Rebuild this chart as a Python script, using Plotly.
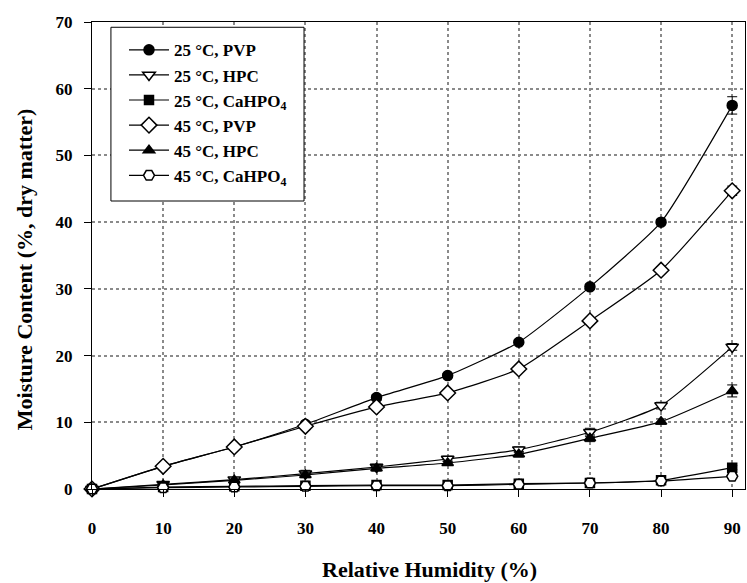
import plotly.graph_objects as go

rh = [0, 10, 20, 30, 40, 50, 60, 70, 80, 90]

pvp_25 = [0, 3.4, 6.3, 9.7, 13.7, 17.0, 22.0, 30.3, 40.0, 57.5]
hpc_25 = [0, 0.7, 1.4, 2.3, 3.3, 4.5, 5.9, 8.5, 12.5, 21.3]
ca_25 = [0, 0.3, 0.4, 0.5, 0.6, 0.6, 0.8, 0.9, 1.3, 3.2]
pvp_45 = [0, 3.4, 6.3, 9.4, 12.3, 14.4, 18.0, 25.2, 32.8, 44.7]
hpc_45 = [0, 0.6, 1.3, 2.1, 3.1, 3.9, 5.2, 7.6, 10.1, 14.7]
ca_45 = [0, 0.2, 0.3, 0.4, 0.5, 0.5, 0.7, 0.9, 1.2, 1.9]

err_pvp_25 = [0, 0.2, 0.3, 0.3, 0.4, 0.3, 0.3, 0.4, 0.4, 1.3]
err_hpc_25 = [0, 0.2, 0.2, 0.5, 0.4, 0.4, 0.4, 0.6, 0.5, 0.5]
err_ca_25 = [0, 0.1, 0.1, 0.1, 0.1, 0.1, 0.1, 0.1, 0.2, 0.3]
err_pvp_45 = [0, 0.2, 0.3, 0.5, 0.4, 0.3, 0.3, 0.4, 0.5, 0.7]
err_hpc_45 = [0, 0.2, 0.2, 0.4, 0.4, 0.3, 0.4, 0.5, 0.4, 0.9]
err_ca_45 = [0, 0.1, 0.1, 0.1, 0.1, 0.1, 0.1, 0.1, 0.2, 0.3]

names = ["25 °C, PVP", "25 °C, HPC", "25 °C, CaHPO<sub>4</sub>",
         "45 °C, PVP", "45 °C, HPC", "45 °C, CaHPO<sub>4</sub>"]

x_ticks = [0, 10, 20, 30, 40, 50, 60, 70, 80, 90]
y_ticks = [0, 10, 20, 30, 40, 50, 60, 70]
x_title = "Relative Humidity (%)"
y_title = "Moisture Content (%, dry matter)"

series = [pvp_25, hpc_25, ca_25, pvp_45, hpc_45, ca_45]
errors = [err_pvp_25, err_hpc_25, err_ca_25, err_pvp_45, err_hpc_45, err_ca_45]
symbols = ["circle", "triangle-down", "square", "diamond", "triangle-up", "hexagon2"]
fills = ["black", "white", "black", "white", "black", "white"]
sizes = [10, 11, 9, 12, 10, 11]

font_family = "Liberation Serif"

fig = go.Figure()
for name, ys, es, sym, fc, sz in zip(names, series, errors, symbols, fills, sizes):
    fig.add_trace(go.Scatter(
        x=rh, y=ys, name=name, mode="lines+markers",
        line=dict(color="black", width=1.2, shape="spline", smoothing=0.5),
        marker=dict(symbol=sym, size=sz, color=fc, line=dict(color="black", width=1.5)),
        error_y=dict(type="data", array=es, visible=True, color="black", thickness=1, width=5),
        cliponaxis=False,
    ))

axis_common = dict(
    showline=True, linecolor="black", linewidth=1, mirror=True,
    ticks="outside", ticklen=7, tickcolor="black", tickwidth=1,
    showgrid=True, gridcolor="#8a8a8a", griddash="dot", gridwidth=1.5,
    zeroline=False,
    tickfont=dict(family=font_family, size=17, color="black", weight="bold"),
)

fig.update_xaxes(range=[0, 91.8], tickvals=x_ticks, ticklabelstandoff=17, **axis_common)
fig.update_yaxes(range=[0, 70], tickvals=y_ticks, ticklabelstandoff=8, **axis_common)

# legend frame
fig.add_shape(type="rect", xref="paper", yref="paper",
              x0=0.029, x1=0.3247, y0=0.6167, y1=0.9887,
              line=dict(color="black", width=1), fillcolor="white", layer="above")

fig.add_annotation(text="<b>" + x_title + "</b>", xref="paper", yref="paper",
                   x=0.517, y=-0.172, xanchor="center", yanchor="middle", showarrow=False,
                   font=dict(family=font_family, size=22, color="black"))
fig.add_annotation(text="<b>" + y_title + "</b>", xref="paper", yref="paper",
                   x=-0.103, y=0.47, xanchor="center", yanchor="middle", showarrow=False,
                   textangle=-90,
                   font=dict(family=font_family, size=22, color="black"))

fig.update_layout(
    width=747, height=583,
    margin=dict(l=92, r=2, t=22, b=94),
    paper_bgcolor="white", plot_bgcolor="white",
    font=dict(family=font_family, color="black"),
    legend=dict(x=0.049, y=0.978, xanchor="left", yanchor="top",
                bgcolor="rgba(0,0,0,0)", borderwidth=0,
                font=dict(family=font_family, size=17, color="black", weight="bold"),
                itemwidth=40, tracegroupgap=0),
    showlegend=True,
)

fig.write_html("out.html")
